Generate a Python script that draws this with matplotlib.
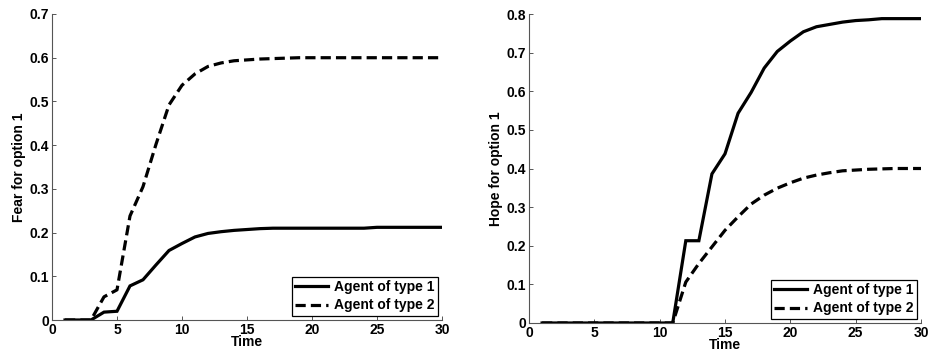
import matplotlib
matplotlib.use("Agg")
import matplotlib.pyplot as plt

time = list(range(1, 31))

fear_type1 = [0, 0, 0, 0.018, 0.02, 0.078, 0.092, 0.126, 0.159, 0.175, 0.19, 0.198, 0.202, 0.205, 0.207, 0.209,
              0.21, 0.21, 0.21, 0.21, 0.21, 0.21, 0.21, 0.21, 0.212, 0.212, 0.212, 0.212, 0.212, 0.212]
fear_type2 = [0, 0, 0, 0.053, 0.069, 0.238, 0.305, 0.402, 0.492, 0.537, 0.563, 0.58, 0.588, 0.593, 0.595, 0.597,
              0.598, 0.599, 0.6, 0.6, 0.6, 0.6, 0.6, 0.6, 0.6, 0.6, 0.6, 0.6, 0.6, 0.6]

hope_type1 = [0, 0, 0, 0, 0, 0, 0, 0, 0, 0, 0, 0.213, 0.213, 0.386, 0.438, 0.543, 0.597, 0.66, 0.703, 0.73,
              0.754, 0.767, 0.773, 0.779, 0.783, 0.785, 0.788, 0.788, 0.788, 0.788]
hope_type2 = [0, 0, 0, 0, 0, 0, 0, 0, 0, 0, 0, 0.106, 0.154, 0.197, 0.24, 0.275, 0.308, 0.331, 0.349, 0.363,
              0.375, 0.383, 0.389, 0.394, 0.396, 0.398, 0.399, 0.4, 0.4, 0.4]

series_labels = ["Agent of type 1", "Agent of type 2"]
x_ticks = [0, 5, 10, 15, 20, 25, 30]
fear_yticks = [0, 0.1, 0.2, 0.3, 0.4, 0.5, 0.6, 0.7]
hope_yticks = [0, 0.1, 0.2, 0.3, 0.4, 0.5, 0.6, 0.7, 0.8]

plt.rcParams['font.family'] = ['Liberation Sans', 'DejaVu Sans']
plt.rcParams['font.weight'] = 'bold'
plt.rcParams['font.size'] = 10

W, H = 932, 358
fig = plt.figure(figsize=(W / 100, H / 100), dpi=100)

def fmt(v):
    return "0" if v == 0 else ("%g" % v)

def setup(ax, y1, y2, yticks, ylabel):
    ax.plot(time, y1, color='black', lw=2.3, solid_joinstyle='miter', label=series_labels[0])
    ax.plot(time, y2, color='black', lw=2.3, linestyle=(0, (3.2, 1.6)), label=series_labels[1])
    ax.set_xlim(0, 30)
    ax.set_ylim(0, yticks[-1])
    ax.set_xticks(x_ticks)
    ax.set_xticklabels([str(t) for t in x_ticks], fontweight='bold')
    ax.set_yticks(yticks)
    ax.set_yticklabels([fmt(v) for v in yticks], fontweight='bold')
    for s in ['top', 'right']:
        ax.spines[s].set_visible(False)
    for s in ['left', 'bottom']:
        ax.spines[s].set_color('#555555')
        ax.spines[s].set_linewidth(0.8)
    ax.tick_params(direction='in', length=3, width=0.7, color='#555555', pad=2, labelsize=10)
    ax.set_xlabel("Time", fontweight='bold', labelpad=-1)
    ax.set_ylabel(ylabel, fontweight='bold', labelpad=3)
    leg = ax.legend(loc='lower right', frameon=True, fancybox=False, framealpha=1,
                    edgecolor='black', borderaxespad=0.3, handlelength=2.4,
                    handletextpad=0.4, labelspacing=0.3, borderpad=0.25)
    leg.get_frame().set_linewidth(0.9)
    for t in leg.get_texts():
        t.set_fontweight('bold')
        t.set_fontsize(10)

ax1 = fig.add_axes([52 / W, (H - 320) / H, (442 - 52) / W, (320 - 14) / H])
setup(ax1, fear_type1, fear_type2, fear_yticks, "Fear for option 1")

ax2 = fig.add_axes([529 / W, (H - 323) / H, (921 - 529) / W, (323 - 14) / H])
setup(ax2, hope_type1, hope_type2, hope_yticks, "Hope for option 1")

fig.savefig("out.png", dpi=100)
